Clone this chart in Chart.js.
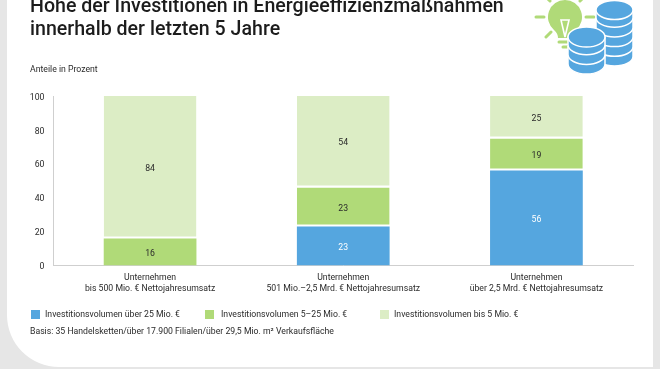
<!DOCTYPE html>
<html lang="de">
<head>
<meta charset="utf-8">
<title>Höhe der Investitionen</title>
<script src="https://cdn.jsdelivr.net/npm/chart.js@4"></script>
<style>
  html, body { margin: 0; padding: 0; background: #e6e6e6; overflow: hidden; }
  body { width: 660px; height: 369px; position: relative; font-family: "Roboto", sans-serif; color: #2a2a2a; }
  #card { position: absolute; left: 7px; top: -20px; width: 646px; height: 387px; background: #fff; border-bottom-left-radius: 52px; }
  #chart { position: absolute; left: 0; top: 0; }
  .txt { position: absolute; white-space: nowrap; }
  #title { left: 30px; top: -6px; font-size: 19.6px; font-weight: 500; line-height: 23px; color: #1c1c1c; }
  #unit { left: 30px; top: 63.5px; font-size: 8.7px; line-height: 11px; }
  #basis { left: 30px; top: 325.5px; font-size: 8.7px; line-height: 11px; }
  .swatch { position: absolute; top: 309.5px; width: 9px; height: 9px; }
  .legtxt { position: absolute; top: 308.5px; font-size: 8.7px; line-height: 11px; white-space: nowrap; }
  #icon { position: absolute; left: 530px; top: 0; }
</style>
</head>
<body>
<div id="card"></div>
<canvas id="chart" width="660" height="369"></canvas>
<div class="txt" id="title">Höhe der Investitionen in Energieeffizienzmaßnahmen<br>innerhalb der letzten 5 Jahre</div>
<div class="txt" id="unit">Anteile in Prozent</div>
<div id="legend"></div>
<div class="txt" id="basis">Basis: 35 Handelsketten/über 17.900 Filialen/über 29,5 Mio. m² Verkaufsfläche</div>

<svg id="icon" width="110" height="80" viewBox="530 0 110 80">
  <g stroke="#b0da78" stroke-width="3" stroke-linecap="round" fill="none">
    <path d="M536 17h8M586 17h8M546 -3l4 4M584 -3l-4 4M546 37l5-5"/>
    <path d="M559 42h11M563 47h7"/>
  </g>
  <path d="M565 0a17 17 0 0 1 11 30c-3 3-4 5-4 8h-14c0-3-1-5-4-8a17 17 0 0 1 11-30z" fill="#b0da78"/>
  <path d="M561 20l4 17 4-17z" fill="none" stroke="#fff" stroke-width="1.6"/>
  <g id="coins"></g>
</svg>

<script>
const categories = [
  ['Unternehmen', 'bis 500 Mio. € Nettojahresumsatz'],
  ['Unternehmen', '501 Mio.–2,5 Mrd. € Nettojahresumsatz'],
  ['Unternehmen', 'über 2,5 Mrd. € Nettojahresumsatz']
];
const seriesHigh = [null, 23, 56];
const seriesMid = [16, 23, 19];
const seriesLow = [84, 54, 25];
const seriesNames = ['Investitionsvolumen über 25 Mio. €', 'Investitionsvolumen 5–25 Mio. €', 'Investitionsvolumen bis 5 Mio. €'];
const yTicks = [0, 20, 40, 60, 80, 100];

const blue = '#55a6df';
const green = '#b0da78';
const pale = '#dcedc5';

// Werte mittig in die Balken schreiben
const valueLabels = {
  id: 'valueLabels',
  afterDatasetsDraw(chart) {
    const ctx = chart.ctx;
    ctx.save();
    ctx.font = '8.7px Roboto';
    ctx.textAlign = 'center';
    ctx.textBaseline = 'middle';
    chart.data.datasets.forEach((ds, i) => {
      chart.getDatasetMeta(i).data.forEach((bar, j) => {
        if (ds.data[j] == null) return;
        const p = bar.getProps(['x', 'y', 'base'], true);
        ctx.fillStyle = i === 0 ? '#fff' : '#2a2a2a';
        ctx.fillText(ds.data[j], p.x, (p.y + p.base) / 2 + 1.5);
      });
    });
    ctx.restore();
  }
};

// weisse Trennlinie nur, wenn unter dem Segment noch etwas liegt
const sepMid = c => ({ top: 0, right: 0, left: 0, bottom: seriesHigh[c.dataIndex] == null ? 0 : 2 });
const sepLow = { top: 0, right: 0, bottom: 2, left: 0 };
const barShape = { barPercentage: 0.48, categoryPercentage: 1 };

const chart = new Chart(document.getElementById('chart').getContext('2d'), {
  type: 'bar',
  data: {
    labels: categories,
    datasets: [
      { label: seriesNames[0], data: seriesHigh, backgroundColor: blue, ...barShape },
      { label: seriesNames[1], data: seriesMid, backgroundColor: green, borderColor: '#fff', borderWidth: sepMid, borderSkipped: false, ...barShape },
      { label: seriesNames[2], data: seriesLow, backgroundColor: pale, borderColor: '#fff', borderWidth: sepLow, borderSkipped: false, ...barShape }
    ]
  },
  options: {
    responsive: false,
    animation: false,
    layout: { padding: { left: 0, right: 27, top: 96, bottom: 0 } },
    plugins: { legend: { display: false }, tooltip: { enabled: false } },
    scales: {
      x: {
        stacked: true,
        grid: { display: false, drawTicks: false },
        border: { color: '#cfcfcf', width: 1 },
        ticks: { color: '#2a2a2a', font: { family: 'Roboto', size: 8.7, lineHeight: 1.27 }, padding: 6.5, maxRotation: 0, autoSkip: false },
        afterFit(scale) { scale.height = 103.5; }
      },
      y: {
        stacked: true,
        min: 0,
        max: 100,
        afterBuildTicks(scale) { scale.ticks = yTicks.map(v => ({ value: v })); },
        grid: { display: false, drawTicks: false },
        border: { color: '#cfcfcf', width: 1 },
        ticks: { color: '#2a2a2a', font: { family: 'Roboto', size: 8.7 }, padding: 9, labelOffset: 1.5 },
        afterFit(scale) { scale.width = 53.5; }
      }
    }
  },
  plugins: [valueLabels]
});

// Legende aus den Datensaetzen
const swatchX = [31, 205, 380];
const legendTextX = [45, 221, 394];
const legendEl = document.getElementById('legend');
chart.data.datasets.forEach((ds, i) => {
  legendEl.insertAdjacentHTML('beforeend',
    `<div class="swatch" style="left:${swatchX[i]}px;background:${ds.backgroundColor}"></div>` +
    `<div class="legtxt" style="left:${legendTextX[i]}px">${ds.label}</div>`);
});

// Icon: Muenzstapel
function coinStack(cx, topY, count, rx, ry, step) {
  let s = '';
  for (let i = count - 1; i >= 0; i--) {
    const y = topY + i * step;
    s += `<path d="M${cx - rx} ${y}v${step - 2}a${rx} ${ry} 0 0 0 ${2 * rx} 0v-${step - 2}z" fill="${blue}" stroke="#fff" stroke-width="1.5"/>`;
  }
  s += `<ellipse cx="${cx}" cy="${topY}" rx="${rx}" ry="${ry}" fill="${blue}" stroke="#fff" stroke-width="1.5"/>`;
  return s;
}
document.getElementById('coins').innerHTML =
  coinStack(614.5, 10, 5, 18.5, 9.5, 9.7) + coinStack(586.5, 37, 3, 18.5, 10, 9.7);
</script>
</body>
</html>
